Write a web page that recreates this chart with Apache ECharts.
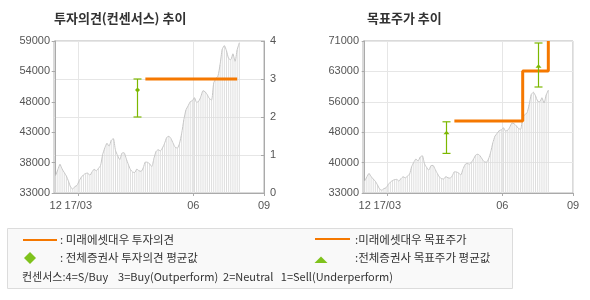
<!DOCTYPE html>
<html>
<head>
<meta charset="utf-8">
<script src="https://cdn.jsdelivr.net/npm/echarts@6/dist/echarts.min.js"></script>
<style>html,body{margin:0;padding:0;background:#fff;}#c{width:590px;height:300px;}</style>
</head>
<body>
<div id="c"></div>
<script>
// ---- data ----
const prices = [36000,37000,37900,37100,36500,35900,35000,34000,33700,34100,
  34300,35100,35700,36100,36350,36400,36000,36600,37050,36800,
  37200,37700,39600,40700,41500,41000,42000,42300,40300,39400,
  38700,39800,39900,38900,37900,37000,36600,36500,37100,36800,
  36700,37300,38300,38250,38000,37500,38900,40100,40400,40200,
  40700,41500,42500,42700,42300,41500,40800,40700,41500,43200,
  45500,47200,47900,48600,48800,49300,48500,48700,49500,50500,
  50300,49800,49150,48900,51800,52600,53000,55000,57600,58200,
  57300,56000,55800,56800,55500,57500,58700];
const xLabelPos = [0, 10.6, 64.45, 97.56];
const xLabels = ['12', '17/03', '06', '09'];
const leftPriceTicks = [33000, 38200, 43400, 48600, 53800, 59000];
const leftPriceLabels = ['33000', '38000', '43000', '48000', '54000', '59000'];
const rightPriceTicks = [33000, 40600, 48200, 55800, 63400, 71000];
const rightPriceLabels = ['33000', '40000', '48000', '56000', '63000', '71000'];
// Mirae Asset Daewoo opinion (index, value)
const opinionIdx = [42, 85];
const opinionVal = [3, 3];
// consensus opinion: [index, min, avg, max]
const consensusOpinion = [[38, 2, 2.71, 3]];
// Mirae Asset Daewoo target price steps (index, value)
const targetIdx = [42, 74, 86];
const targetVal = [51000, 63500, 71000];
// consensus target price: [index, min, avg, max]
const consensusTarget = [[38, 42900, 48050, 50800], [81, 59500, 64700, 70500]];

const XMIN = -0.8, XMAX = 97.56;
const ORANGE = '#f57800', GREEN = '#7cb800';
const FONT = '"Liberation Sans", Arial, sans-serif';
const KFONT = '"Noto Sans CJK KR", sans-serif';

const priceData = prices.map((v, i) => [i, v]);
const labelMap = (ticks, labels) => v => { const k = ticks.indexOf(v); return k >= 0 ? labels[k] : ''; };

function xAxisDef(gridIndex) {
  return {
    type: 'value', gridIndex, min: XMIN, max: XMAX,
    axisLine: { show: true, lineStyle: { color: '#aaaaaa' } },
    axisTick: { show: true, length: 3, customValues: xLabelPos.slice(1), lineStyle: { color: '#aaaaaa' } },
    axisLabel: { customValues: xLabelPos, formatter: labelMap(xLabelPos, xLabels), color: '#555', fontSize: 11, fontFamily: FONT, margin: 7 },
    splitLine: { show: true, lineStyle: { color: '#e6e6e6' } }
  };
}

function errorRender(shape) {
  return function (params, api) {
    const x = api.value(0);
    const pMin = api.coord([x, api.value(1)]);
    const pAvg = api.coord([x, api.value(2)]);
    const pMax = api.coord([x, api.value(3)]);
    const cx = Math.round(pMin[0]) + 0.5;
    const st = { stroke: GREEN, lineWidth: 1.2 };
    const children = [
      { type: 'line', shape: { x1: cx, y1: pMin[1], x2: cx, y2: pMax[1] }, style: st },
      { type: 'line', shape: { x1: cx - 4, y1: pMin[1], x2: cx + 4, y2: pMin[1] }, style: st },
      { type: 'line', shape: { x1: cx - 4, y1: pMax[1], x2: cx + 4, y2: pMax[1] }, style: st }
    ];
    const y = pAvg[1];
    if (shape === 'diamond') {
      children.push({ type: 'polygon', shape: { points: [[cx, y - 2.5], [cx + 2.5, y], [cx, y + 2.5], [cx - 2.5, y]] }, style: { fill: GREEN } });
    } else {
      children.push({ type: 'polygon', shape: { points: [[cx, y - 2], [cx + 3, y + 1.5], [cx - 3, y + 1.5]] }, style: { fill: GREEN } });
    }
    return { type: 'group', children };
  };
}

const chart = echarts.init(document.getElementById('c'), null, { renderer: 'canvas' });
chart.setOption({
  animation: false,
  grid: [
    { left: 54, top: 41, width: 210, height: 152, show: true, borderColor: '#b4b4b4', borderWidth: 1, backgroundColor: 'transparent' },
    { left: 363, top: 41, width: 210, height: 152, show: true, borderColor: '#b4b4b4', borderWidth: 1, backgroundColor: 'transparent' }
  ],
  xAxis: [xAxisDef(0), xAxisDef(1)],
  yAxis: [
    { type: 'value', gridIndex: 0, min: 33000, max: 59000, position: 'left',
      axisLine: { show: true, lineStyle: { color: '#aaaaaa' } },
      axisTick: { show: true, length: 4, customValues: leftPriceTicks, lineStyle: { color: '#aaaaaa' } },
      axisLabel: { customValues: leftPriceTicks, formatter: labelMap(leftPriceTicks, leftPriceLabels), color: '#555', fontSize: 11, fontFamily: FONT, margin: 4 },
      splitLine: { show: false } },
    { type: 'value', gridIndex: 0, min: 0, max: 4, interval: 1, position: 'right',
      axisLine: { show: true, lineStyle: { color: '#aaaaaa' } },
      axisTick: { show: true, inside: true, length: 3, lineStyle: { color: '#aaaaaa' } },
      axisLabel: { color: '#555', fontSize: 11, fontFamily: FONT, margin: 6 },
      splitLine: { show: true, lineStyle: { color: '#e6e6e6' } } },
    { type: 'value', gridIndex: 1, min: 33000, max: 71000, position: 'left',
      axisLine: { show: true, lineStyle: { color: '#aaaaaa' } },
      axisTick: { show: true, length: 3, customValues: rightPriceTicks, lineStyle: { color: '#aaaaaa' } },
      axisLabel: { customValues: rightPriceTicks, formatter: labelMap(rightPriceTicks, rightPriceLabels), color: '#555', fontSize: 11, fontFamily: FONT, margin: 4 },
      splitLine: { show: true, lineStyle: { color: '#e6e6e6' } } }
  ],
  series: [
    { type: 'bar', xAxisIndex: 0, yAxisIndex: 0, data: priceData, barWidth: 1, itemStyle: { color: '#dedede' }, z: 1 },
    { type: 'line', xAxisIndex: 0, yAxisIndex: 0, data: priceData, symbol: 'none', smooth: 0.2, lineStyle: { color: '#c6c6c6', width: 1 }, z: 2 },
    { type: 'line', xAxisIndex: 0, yAxisIndex: 1, data: opinionIdx.map((x, i) => [x, opinionVal[i]]), symbol: 'none', lineStyle: { color: ORANGE, width: 3 }, z: 4 },
    { type: 'custom', xAxisIndex: 0, yAxisIndex: 1, data: consensusOpinion, renderItem: errorRender('diamond'), encode: { x: 0, y: [1, 2, 3] }, z: 5 },
    { type: 'bar', xAxisIndex: 1, yAxisIndex: 2, data: priceData, barWidth: 1, itemStyle: { color: '#dedede' }, z: 1 },
    { type: 'line', xAxisIndex: 1, yAxisIndex: 2, data: priceData, symbol: 'none', smooth: 0.2, lineStyle: { color: '#c6c6c6', width: 1 }, z: 2 },
    { type: 'line', xAxisIndex: 1, yAxisIndex: 2, data: targetIdx.map((x, i) => [x, targetVal[i]]), step: 'end', symbol: 'none', lineStyle: { color: ORANGE, width: 3 }, z: 4 },
    { type: 'custom', xAxisIndex: 1, yAxisIndex: 2, data: consensusTarget, renderItem: errorRender('triangle'), encode: { x: 0, y: [1, 2, 3] }, z: 5 }
  ],
  graphic: [
    { type: 'text', left: 54, top: 12, style: { text: '투자의견(컨센서스) 추이', fill: '#333', font: 'bold 13px ' + KFONT } },
    { type: 'text', left: 367, top: 12, style: { text: '목표주가 추이', fill: '#333', font: 'bold 13px ' + KFONT } },
    { type: 'rect', shape: { x: 7.5, y: 228.5, width: 505, height: 60 }, style: { fill: '#f9f9f9', stroke: '#dcdcdc', lineWidth: 1 } },
    { type: 'line', shape: { x1: 23, y1: 240, x2: 57, y2: 240 }, style: { stroke: ORANGE, lineWidth: 2 } },
    { type: 'text', x: 60, y: 240, style: { text: ': 미래에셋대우 투자의견', fill: '#333', font: '11.5px ' + KFONT, verticalAlign: 'middle' } },
    { type: 'line', shape: { x1: 315, y1: 239, x2: 350, y2: 239 }, style: { stroke: ORANGE, lineWidth: 2 } },
    { type: 'text', x: 355, y: 240, style: { text: ':미래에셋대우 목표주가', fill: '#333', font: '11.5px ' + KFONT, verticalAlign: 'middle' } },
    { type: 'polygon', shape: { points: [[30, 252], [36, 258], [30, 264], [24, 258]] }, style: { fill: '#7fc21c' } },
    { type: 'text', x: 60, y: 258, style: { text: ': 전체증권사 투자의견 평균값', fill: '#333', font: '11.5px ' + KFONT, verticalAlign: 'middle' } },
    { type: 'polygon', shape: { points: [[321, 256.5], [327.5, 263], [314.5, 263]] }, style: { fill: '#7fc21c' } },
    { type: 'text', x: 355, y: 258, style: { text: ':전체증권사 목표주가 평균값', fill: '#333', font: '11.5px ' + KFONT, verticalAlign: 'middle' } },
    { type: 'text', x: 22, y: 277, style: { text: '컨센서스:4=S/Buy    3=Buy(Outperform)  2=Neutral   1=Sell(Underperform)', fill: '#333', font: '11px ' + KFONT, verticalAlign: 'middle' } }
  ]
});
</script>
</body>
</html>
